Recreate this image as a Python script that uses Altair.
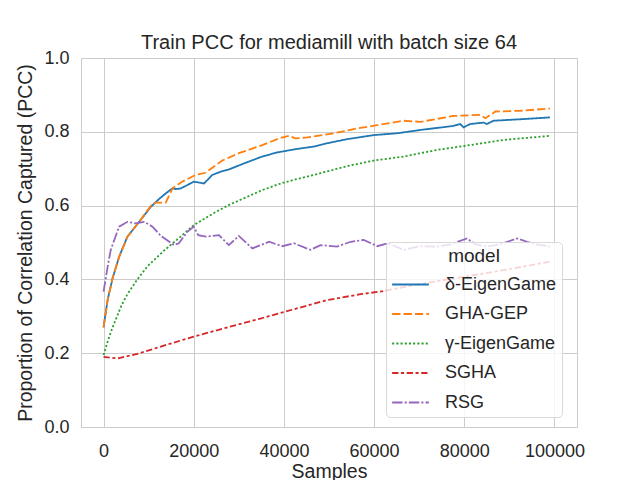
import altair as alt
import pandas as pd

models = ["δ-EigenGame", "GHA-GEP", "γ-EigenGame", "SGHA", "RSG"]
colors = ["#1f77b4", "#ff7f0e", "#2ca02c", "#d62728", "#9467bd"]
dashes = [[1, 0], [8.3, 3.1], [2.1, 2.1], [6.25, 2.6, 3.1, 2.6], [10.4, 2.1, 2.1, 2.1]]

delta_x = [0, 900, 2000, 3450, 5300, 7900, 10500, 12500, 14000, 15300, 16000, 17000, 18500,
           20000, 22300, 24100, 26000, 27800, 31500, 35200, 38500, 42600, 46600, 50000, 54000,
           59900, 65100, 70300, 77600, 79100, 79850, 81300, 84300, 85000, 86500, 92400, 99000]
delta_y = [0.27, 0.344, 0.403, 0.461, 0.516, 0.556, 0.597, 0.62, 0.635, 0.647, 0.645, 0.646, 0.655,
           0.665, 0.66, 0.683, 0.692, 0.698, 0.716, 0.733, 0.744, 0.753, 0.76, 0.77, 0.78,
           0.791, 0.796, 0.805, 0.816, 0.821, 0.812, 0.821, 0.825, 0.821, 0.83, 0.834, 0.839]

gha_x = [0, 900, 2000, 3450, 5300, 7900, 10500, 11600, 13800, 15300, 17500, 20400, 22600, 26300,
         30000, 35200, 38900, 41100, 42600, 45200, 51100, 56200, 60700, 66600, 70300, 77600,
         83500, 84700, 86900, 92400, 99000]
gha_y = [0.27, 0.344, 0.403, 0.461, 0.516, 0.556, 0.6, 0.608, 0.608, 0.647, 0.665, 0.683, 0.689, 0.722,
         0.742, 0.764, 0.782, 0.789, 0.782, 0.785, 0.796, 0.809, 0.818, 0.83, 0.827, 0.843,
         0.846, 0.837, 0.855, 0.857, 0.863]

gamma_x = [0, 1000, 2000, 3000, 4000, 5300, 7500, 9700, 13400, 17100, 20000, 24500, 28000, 31900,
           35200, 39300, 42600, 46600, 54000, 59900, 66600, 74000, 81300, 88700, 99000]
gamma_y = [0.195, 0.235, 0.27, 0.30, 0.33, 0.36, 0.40, 0.435, 0.478, 0.516, 0.547, 0.58, 0.603,
           0.624, 0.642, 0.66, 0.671, 0.683, 0.707, 0.722, 0.733, 0.751, 0.764, 0.778, 0.789]

sgha_x = [0, 3100, 7500, 12700, 20000, 27500, 34800, 42200, 49600, 57000, 61400, 70000, 79850,
          88700, 99000]
sgha_y = [0.19, 0.186, 0.198, 0.218, 0.245, 0.27, 0.294, 0.319, 0.344, 0.36, 0.367, 0.387, 0.407,
          0.425, 0.448]

rsg_x = [0, 900, 1600, 3450, 5300, 7150, 9000, 10850, 12700, 15600, 16700, 18600, 20000, 21000,
         22700, 25600, 27800, 30000, 33000, 36700, 39600, 42200, 45900, 48100, 51800, 54800,
         57700, 60700, 63000, 66600, 70000, 74000, 77000, 80600, 82500, 85000, 88000, 91700,
         93900, 96000, 99000]
rsg_y = [0.367, 0.434, 0.48, 0.543, 0.556, 0.552, 0.556, 0.543, 0.518, 0.493, 0.498, 0.529, 0.543,
         0.52, 0.516, 0.52, 0.493, 0.518, 0.484, 0.502, 0.49, 0.498, 0.48, 0.493, 0.489, 0.502,
         0.507, 0.49, 0.498, 0.48, 0.49, 0.489, 0.495, 0.511, 0.495, 0.489, 0.495, 0.511,
         0.502, 0.495, 0.489]

series = [(models[0], delta_x, delta_y), (models[1], gha_x, gha_y), (models[2], gamma_x, gamma_y),
          (models[3], sgha_x, sgha_y), (models[4], rsg_x, rsg_y)]
rows = []
for name, xs, ys in series:
    for xv, yv in zip(xs, ys):
        rows.append({"model": name, "Samples": xv, "PCC": yv})
df = pd.DataFrame(rows)

FONT = "Liberation Sans"
TXT = "#262626"

legend = alt.Legend(
    title="model", orient="none", legendX=305, legendY=184,
    titleFontSize=19, titleFontWeight="normal", titleColor=TXT, titleFont=FONT,
    titleAnchor="middle", titleAlign="center", titlePadding=-1,
    labelFontSize=18, labelFont=FONT, labelColor=TXT, labelOffset=15,
    symbolType="stroke", symbolSize=1350, symbolStrokeWidth=1.8,
    rowPadding=0.5, padding=5, strokeColor="#d9d9d9",
    fillColor="rgba(255,255,255,0.8)", cornerRadius=4,
)

chart = alt.Chart(df).mark_line(strokeWidth=1.8).encode(
    x=alt.X("Samples:Q",
            scale=alt.Scale(domain=[-5000, 105000], nice=False, zero=False),
            axis=alt.Axis(values=[0, 20000, 40000, 60000, 80000, 100000], format="d",
                          title="Samples", labelPadding=15, titlePadding=2)),
    y=alt.Y("PCC:Q",
            scale=alt.Scale(domain=[0, 1], nice=False),
            axis=alt.Axis(values=[0, 0.2, 0.4, 0.6, 0.8, 1.0], format=".1f",
                          title="Proportion of Correlation Captured (PCC)",
                          labelPadding=12, titlePadding=8)),
    color=alt.Color("model:N", scale=alt.Scale(domain=models, range=colors), legend=legend),
    strokeDash=alt.StrokeDash("model:N", scale=alt.Scale(domain=models, range=dashes), legend=legend),
).properties(
    width=496, height=369,
    autosize="none",
    padding={"left": 73, "top": 50, "right": 40, "bottom": 60},
    title=alt.Title("Train PCC for mediamill with batch size 64", fontSize=20, font=FONT,
                    fontWeight="normal", color=TXT, offset=-4, frame="group"),
).configure_view(
    stroke="#cccccc", strokeWidth=1
).configure_axis(
    domain=False, ticks=False, grid=True, gridColor="#cccccc", gridWidth=1,
    labelFont=FONT, labelFontSize=18, labelColor=TXT,
    titleFont=FONT, titleFontSize=19.5, titleFontWeight="normal", titleColor=TXT,
)

chart.save("out.html", embed_options={"renderer": "svg", "actions": False})
